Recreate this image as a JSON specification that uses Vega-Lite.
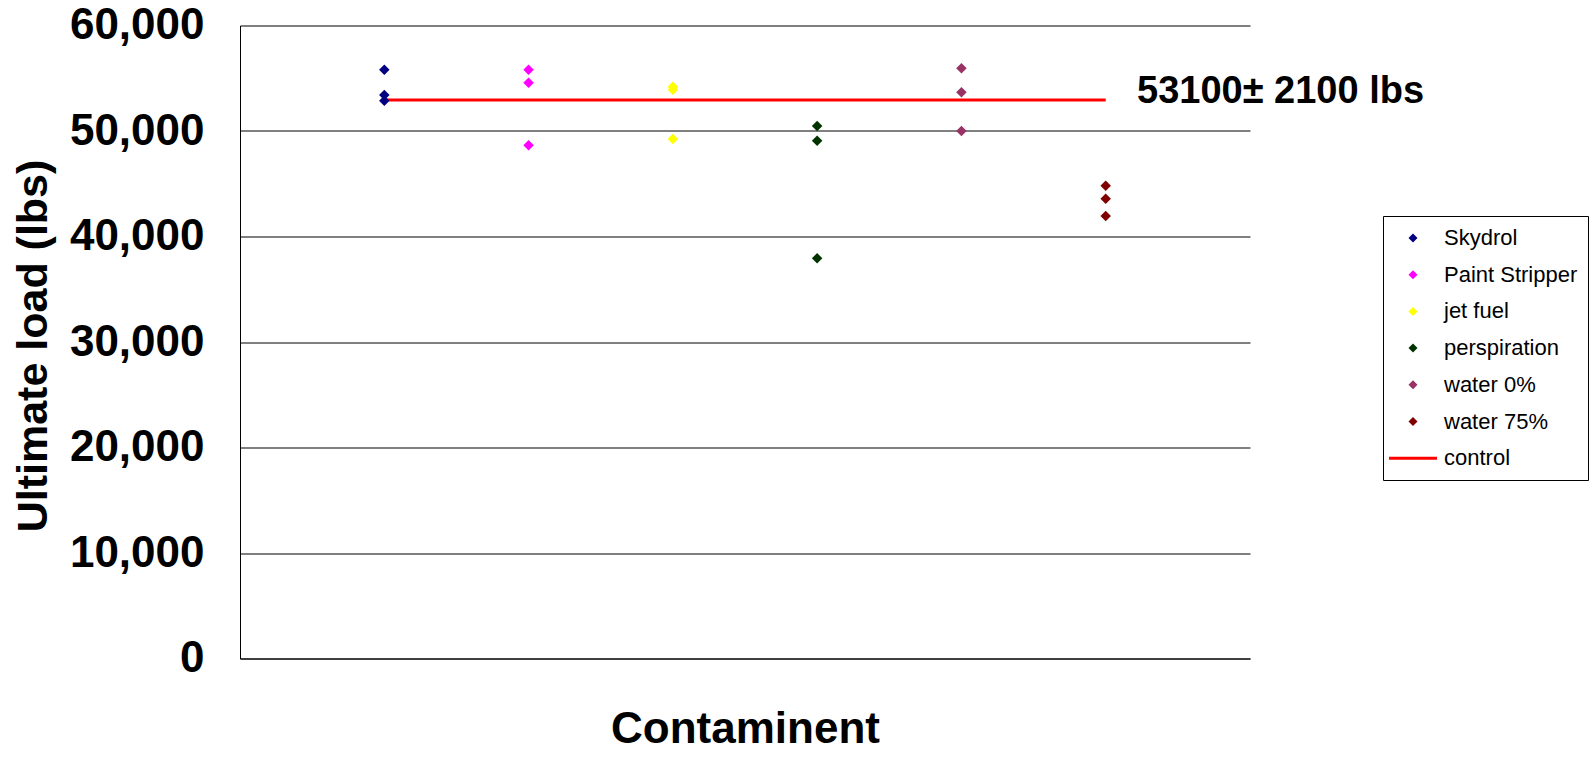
{
  "$schema": "https://vega.github.io/schema/vega-lite/v6.json",
  "width": 1010,
  "height": 633,
  "autosize": {"type": "none"},
  "padding": {"left": 240, "top": 25.5, "right": 346, "bottom": 105.5},
  "background": "white",
  "config": {
    "view": {"stroke": null},
    "font": "Liberation Sans"
  },
  "datasets": {
    "pts": [
      {"cat": "Skydrol", "x": 1, "load": 55800},
      {"cat": "Skydrol", "x": 1, "load": 53420},
      {"cat": "Skydrol", "x": 1, "load": 52870},
      {"cat": "Paint Stripper", "x": 2, "load": 55800},
      {"cat": "Paint Stripper", "x": 2, "load": 54580},
      {"cat": "Paint Stripper", "x": 2, "load": 48640},
      {"cat": "jet fuel", "x": 3, "load": 54200},
      {"cat": "jet fuel", "x": 3, "load": 53900},
      {"cat": "jet fuel", "x": 3, "load": 49240},
      {"cat": "perspiration", "x": 4, "load": 50475},
      {"cat": "perspiration", "x": 4, "load": 49080},
      {"cat": "perspiration", "x": 4, "load": 37930},
      {"cat": "water 0%", "x": 5, "load": 55945},
      {"cat": "water 0%", "x": 5, "load": 53670},
      {"cat": "water 0%", "x": 5, "load": 50000},
      {"cat": "water 75%", "x": 6, "load": 44815},
      {"cat": "water 75%", "x": 6, "load": 43580},
      {"cat": "water 75%", "x": 6, "load": 41945}
    ],
    "ctrl": [
      {"x": 1, "load": 52950},
      {"x": 6, "load": 52950}
    ],
    "note": [
      {"x": 6.217, "load": 52655, "label": "53100± 2100 lbs"}
    ]
  },
  "layer": [
    {
      "data": {"name": "ctrl"},
      "mark": {"type": "line", "color": "#FF0000", "strokeWidth": 3},
      "encoding": {
        "x": {"field": "x", "type": "quantitative", "scale": {"domain": [0, 7], "nice": false, "zero": false},
              "axis": {"labels": false, "ticks": false, "grid": false, "domain": true, "domainColor": "black", "domainWidth": 1,
                       "title": "Contaminent", "titleFont": "Liberation Sans", "titleFontSize": 44, "titleFontWeight": "bold", "titleColor": "black",
                       "titleX": 505, "titleY": 83.5, "titleBaseline": "alphabetic", "titleAlign": "center"}},
        "y": {"field": "load", "type": "quantitative", "scale": {"domain": [0, 60000], "nice": false},
              "axis": {"values": [0, 10000, 20000, 30000, 40000, 50000, 60000], "format": ",.0f", "ticks": false,
                       "grid": true, "gridColor": "black", "gridWidth": 1, "gridOpacity": 1,
                       "domain": true, "domainColor": "black", "domainWidth": 1,
                       "labelFont": "Liberation Sans", "labelFontSize": 44, "labelFontWeight": "bold", "labelColor": "black", "labelPadding": 36,
                       "title": "Ultimate load (lbs)", "titleFont": "Liberation Sans", "titleFontSize": 43, "titleFontWeight": "bold", "titleColor": "black",
                       "titleAngle": -90, "titleBaseline": "alphabetic", "titleAlign": "center", "titleX": -194, "titleY": 320}}
      }
    },
    {
      "data": {"name": "pts"},
      "mark": {"type": "point", "filled": true, "opacity": 1, "size": 784},
      "encoding": {
        "x": {"field": "x", "type": "quantitative"},
        "y": {"field": "load", "type": "quantitative"},
        "color": {"field": "cat", "type": "nominal",
                  "scale": {"domain": ["Skydrol", "Paint Stripper", "jet fuel", "perspiration", "water 0%", "water 75%", "control"],
                            "range": ["#000080", "#FF00FF", "#FFFF00", "#003300", "#993366", "#800000", "#FF0000"]},
                  "legend": {"title": null, "orient": "none", "legendX": 1143, "legendY": 190.5,
                             "strokeColor": "black", "fillColor": "white", "padding": 10, "symbolOffset": 8,
                             "symbolSize": 576, "labelOffset": 19, "rowPadding": 13.7,
                             "labelFont": "Liberation Sans", "labelFontSize": 22, "labelColor": "black", "labelLimit": 300,
                             "symbolStrokeWidth": 0, "symbolOpacity": 1}},
        "shape": {"field": "cat", "type": "nominal",
                  "scale": {"domain": ["Skydrol", "Paint Stripper", "jet fuel", "perspiration", "water 0%", "water 75%", "control"],
                            "range": ["M0,-0.375L0.375,0L0,0.375L-0.375,0Z", "M0,-0.375L0.375,0L0,0.375L-0.375,0Z", "M0,-0.375L0.375,0L0,0.375L-0.375,0Z",
                                      "M0,-0.375L0.375,0L0,0.375L-0.375,0Z", "M0,-0.375L0.375,0L0,0.375L-0.375,0Z", "M0,-0.375L0.375,0L0,0.375L-0.375,0Z",
                                      "M-2,-0.12H2V0.12H-2Z"]}}
      }
    },
    {
      "data": {"name": "note"},
      "mark": {"type": "text", "align": "left", "baseline": "alphabetic", "font": "Liberation Sans", "fontSize": 38, "fontWeight": "bold", "color": "black"},
      "encoding": {
        "x": {"field": "x", "type": "quantitative"},
        "y": {"field": "load", "type": "quantitative"},
        "text": {"field": "label"}
      }
    }
  ]
}
